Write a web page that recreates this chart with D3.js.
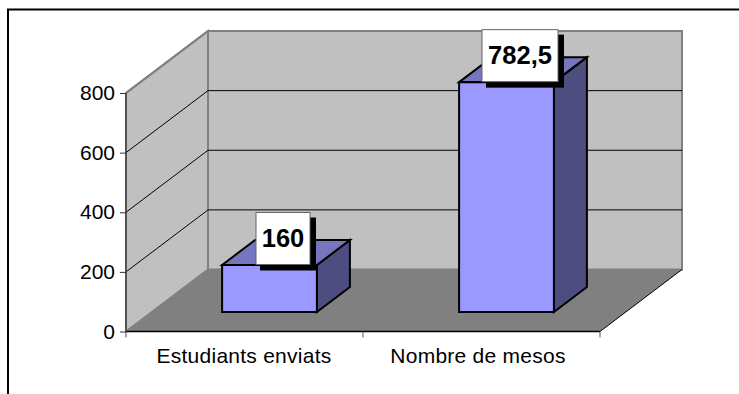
<!DOCTYPE html>
<html>
<head>
<meta charset="utf-8">
<style>
html, body { margin: 0; padding: 0; background: #fff; }
svg { display: block; }
text { font-family: "Liberation Sans", Arial, sans-serif; fill: #000; }
</style>
<script src="https://cdn.jsdelivr.net/npm/d3@7/dist/d3.min.js"></script>
</head>
<body>
<div id="chart"></div>
<script>
'use strict';

var categories = ['Estudiants enviats', 'Nombre de mesos'];
var values = [160, 782.5];
var valueLabels = ['160', '782,5'];
var ticks = [0, 200, 400, 600, 800];

var w = 739, h = 394;
var x0 = 126, x1 = 600;      // front edge of the floor
var dx = 82, dy = -62;       // box depth
var barDx = 33, barDy = -25; // bar depth
var wallGrey = '#c0c0c0', floorGrey = '#808080', edgeGrey = '#808080';

var svg = d3.select('#chart').append('svg')
    .attr('width', w)
    .attr('height', h);

var y = d3.scaleLinear().domain([0, 800]).range([331.5, 93]);
var x = d3.scaleBand().domain(categories)
    .range([x0 + 25, x1 + 25])
    .paddingInner(0.6)
    .paddingOuter(0.3);
// bars stand part way into the box
var barY = d3.scaleLinear().domain([0, 800]).range([312, 77]);

function poly(points, fill, stroke, sw) {
    return svg.append('polygon')
        .attr('points', points.map(function(p){ return p.join(','); }).join(' '))
        .style('fill', fill)
        .style('stroke', stroke || 'none')
        .style('stroke-width', sw || 0)
        .style('stroke-linejoin', 'miter');
}

function line(a, b, stroke, sw) {
    svg.append('line')
        .attr('x1', a[0]).attr('y1', a[1])
        .attr('x2', b[0]).attr('y2', b[1])
        .style('stroke', stroke)
        .style('stroke-width', sw);
}

// frame, only top and left are in the picture
line([7, 9.5], [w, 9.5], '#000', 2);
line([8, 9.5], [8, h], '#000', 2);

// walls and floor
var yMin = y(0), yMax = y(800);
poly([[x0 + dx, yMin + dy], [x1 + dx, yMin + dy], [x1 + dx, yMax + dy], [x0 + dx, yMax + dy]], wallGrey, edgeGrey, 2);
poly([[x0, yMin], [x0 + dx, yMin + dy], [x0 + dx, yMax + dy], [x0, yMax]], wallGrey, edgeGrey, 2);
poly([[x0, yMin], [x1, yMin], [x1 + dx, yMin + dy], [x0 + dx, yMin + dy]], floorGrey);

// grid lines
ticks.slice(1).forEach(function(t){
    if (t < 800) {
        line([x0 + dx, y(t) + dy], [x1 + dx, y(t) + dy], '#000', 1);
    }
    line([x0, y(t)], [x0 + dx, y(t) + dy], t === 800 ? edgeGrey : '#000', t === 800 ? 2 : 1);
});
line([x1, yMin], [x1 + dx, yMin + dy], '#000', 1);
line([x0, yMin], [x1, yMin], '#000', 1.5);
line([x0, yMin], [x0, yMax], '#444', 1.5);

// axes
var yAxis = d3.axisLeft(y).tickValues(ticks).tickSize(6).tickPadding(5);
var gy = svg.append('g').attr('transform', 'translate(' + x0 + ',0)').call(yAxis);
gy.select('.domain').remove();
gy.selectAll('line').style('stroke', '#333');
gy.selectAll('text').style('font-size', '21px').style('font-family', '"Liberation Sans"');

var xFront = d3.scaleBand().domain(categories).range([127, 595]);
var gx = svg.append('g').attr('transform', 'translate(0,' + yMin + ')')
    .call(d3.axisBottom(xFront).tickSize(0).tickPadding(17));
gx.select('.domain').remove();
gx.selectAll('text').style('font-size', '21px').style('letter-spacing', '0.25px').style('font-family', '"Liberation Sans"');
[x0, x0 + (x1 - x0) / 2, x1].forEach(function(tx){
    line([tx, yMin], [tx, yMin + 6], '#555', 1);
});

// bars
categories.forEach(function(c, i){
    var left = x(c), right = left + x.bandwidth();
    var top = barY(values[i]), bottom = barY(0);
    poly([[right, top], [right + barDx, top + barDy], [right + barDx, bottom + barDy], [right, bottom]], '#4d4d80', '#000', 2);
    poly([[left, top], [left + barDx, top + barDy], [right + barDx, top + barDy], [right, top]], '#7676bf', '#000', 2);
    poly([[left, top], [right, top], [right, bottom], [left, bottom]], '#9999ff', '#000', 2);
});

// value labels
categories.forEach(function(c, i){
    var cx = x(c) + x.bandwidth() / 2 + 13.5;
    var boxW = i === 0 ? 54 : 76;
    var boxH = 52;
    var bottom = barY(values[i]) - 0.5;
    svg.append('rect')
        .attr('x', cx - boxW / 2 + 4).attr('y', bottom - boxH + 5)
        .attr('width', boxW + 2).attr('height', boxH + 1)
        .style('fill', '#000');
    svg.append('rect')
        .attr('x', cx - boxW / 2).attr('y', bottom - boxH)
        .attr('width', boxW).attr('height', boxH)
        .style('fill', '#fff')
        .style('stroke', '#666')
        .style('stroke-width', 1);
    svg.append('text')
        .attr('x', cx).attr('y', bottom - boxH / 2 + 8)
        .attr('text-anchor', 'middle')
        .style('font-size', '25.5px')
        .style('font-weight', 'bold')
        .text(valueLabels[i]);
});
</script>
</body>
</html>
